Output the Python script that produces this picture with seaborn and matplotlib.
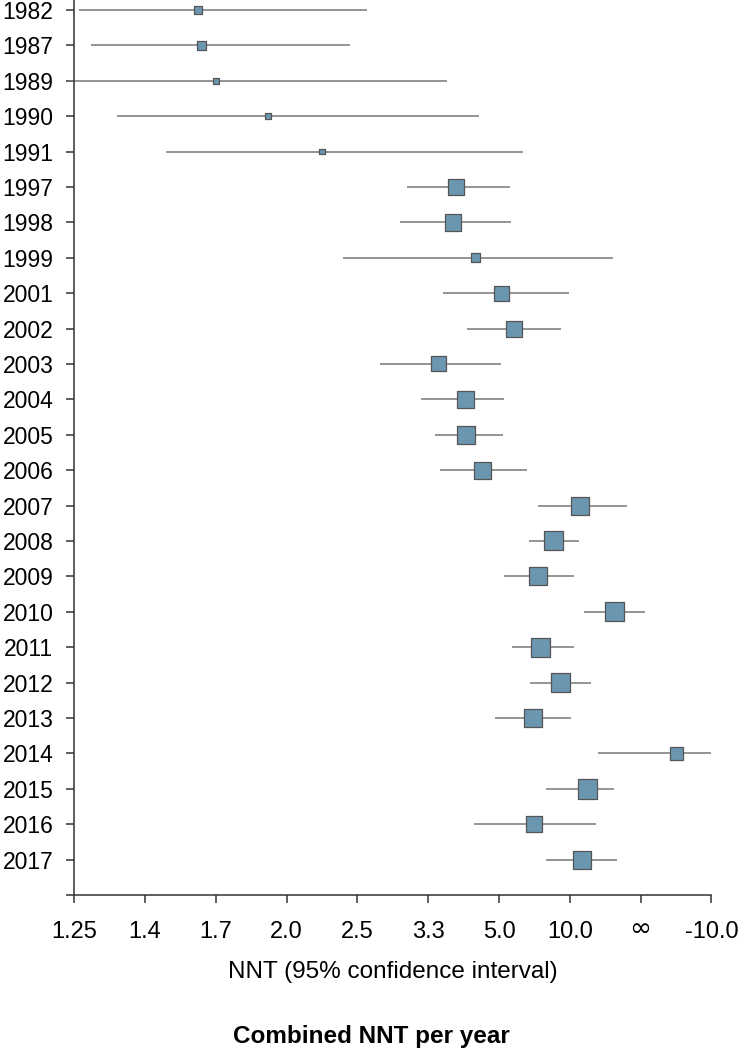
import numpy as np
import pandas as pd
import matplotlib
matplotlib.use('Agg')
import matplotlib.pyplot as plt
import matplotlib.transforms as mtransforms
import seaborn as sns

# 年ごとの推定値（横軸は 1/NNT = 絶対リスク減少で表示）
years = ['1982', '1987', '1989', '1990', '1991', '1997', '1998', '1999', '2001', '2002',
         '2003', '2004', '2005', '2006', '2007', '2008', '2009', '2010', '2011', '2012',
         '2013', '2014', '2015', '2016', '2017']
arr_point = [0.625, 0.620, 0.600, 0.526, 0.450, 0.261, 0.265, 0.233, 0.197, 0.179,
             0.285, 0.248, 0.246, 0.224, 0.086, 0.123, 0.145, 0.037, 0.141, 0.113,
             0.152, -0.051, 0.075, 0.151, 0.083]
arr_upper = [0.793, 0.777, 0.808, 0.740, 0.670, 0.330, 0.340, 0.421, 0.279, 0.245,
             0.368, 0.310, 0.290, 0.283, 0.145, 0.158, 0.193, 0.080, 0.181, 0.156,
             0.206, 0.060, 0.133, 0.236, 0.133]
arr_lower = [0.387, 0.410, 0.273, 0.228, 0.166, 0.185, 0.183, 0.039, 0.101, 0.113,
             0.197, 0.193, 0.195, 0.161, 0.019, 0.087, 0.094, -0.006, 0.094, 0.070,
             0.098, -0.100, 0.037, 0.063, 0.033]
# 四角の大きさ（重み）
weight = [8.3, 9.0, 5.7, 6.0, 5.7, 16.5, 16.5, 9.5, 15, 16,
          15, 17, 18, 17, 18, 19, 18, 19, 19, 19,
          18, 13.5, 19.5, 16, 18]

# 横軸の目盛り（ARR値とNNT表示）
tick_arr = [0.8, 0.7, 0.6, 0.5, 0.4, 0.3, 0.2, 0.1, 0.0, -0.1]
tick_labels = ['1.25', '1.4', '1.7', '2.0', '2.5', '3.3', '5.0', '10.0', '\u221e', '-10.0']

df = pd.DataFrame({'year': years, 'arr': arr_point, 'upper': arr_upper,
                   'lower': arr_lower, 'weight': weight})
df['row'] = np.arange(len(df))

sns.set_style('ticks')
plt.rcParams['font.family'] = ['Liberation Sans', 'DejaVu Sans']
plt.rcParams['text.color'] = 'black'
plt.rcParams['xtick.labelcolor'] = 'black'
plt.rcParams['ytick.labelcolor'] = 'black'

fig, ax = plt.subplots(figsize=(7.43, 10.5), dpi=100)
fig.subplots_adjust(left=0.1, right=0.9575, top=1.0, bottom=0.1476)

# 信頼区間の線
ax.hlines(df['row'], df['lower'], df['upper'], color='#777777', lw=1.1,
          zorder=1, clip_on=False)

# 点推定の四角
sizes = (df['weight'] * 0.72) ** 2
sns.scatterplot(data=df, x='arr', y='row', marker='s', s=sizes, color='#6b96b0',
                edgecolor='#555555', linewidth=0.9, zorder=3, ax=ax, legend=False,
                clip_on=False)

ax.set_xlim(0.8, -0.1)
ax.set_ylim(25, -0.28)
ax.set_xticks(tick_arr)
# ∞ は別に描くので目盛りラベルは空にする
ax.set_xticklabels(['' if t == '\u221e' else t for t in tick_labels])
ax.set_yticks(df['row'])
ax.set_yticklabels(years)
ax.set_yticks([25], minor=True)
ax.set_xlabel('')
ax.set_ylabel('')

for s in ['top', 'right']:
    ax.spines[s].set_visible(False)
for s in ['left', 'bottom']:
    ax.spines[s].set_color('#333333')
    ax.spines[s].set_linewidth(1.1)

ax.tick_params(axis='x', length=6, width=1.1, color='#333333', labelsize=17, pad=13)
ax.tick_params(axis='y', which='both', length=6, width=1.1, color='#333333',
               labelsize=16.5, pad=9)

# ∞ ラベル（数字とベースラインをそろえる）
trans = mtransforms.blended_transform_factory(ax.transData, ax.transAxes)
inf_x = tick_arr[tick_labels.index('\u221e')]
ax.text(inf_x, -(936 - 895) / 895, '\u221e', transform=trans, ha='center',
        va='baseline', fontsize=19, family='DejaVu Sans', clip_on=False)

fig.text(0.5283, 1 - 972 / 1050, 'NNT (95% confidence interval)', ha='center',
         va='center', fontsize=17.5)
fig.text(0.5, 1 - 1036 / 1050, 'Combined NNT per year', ha='center', va='center',
         fontsize=17.5, fontweight='bold')

fig.savefig('out.png', dpi=100)
